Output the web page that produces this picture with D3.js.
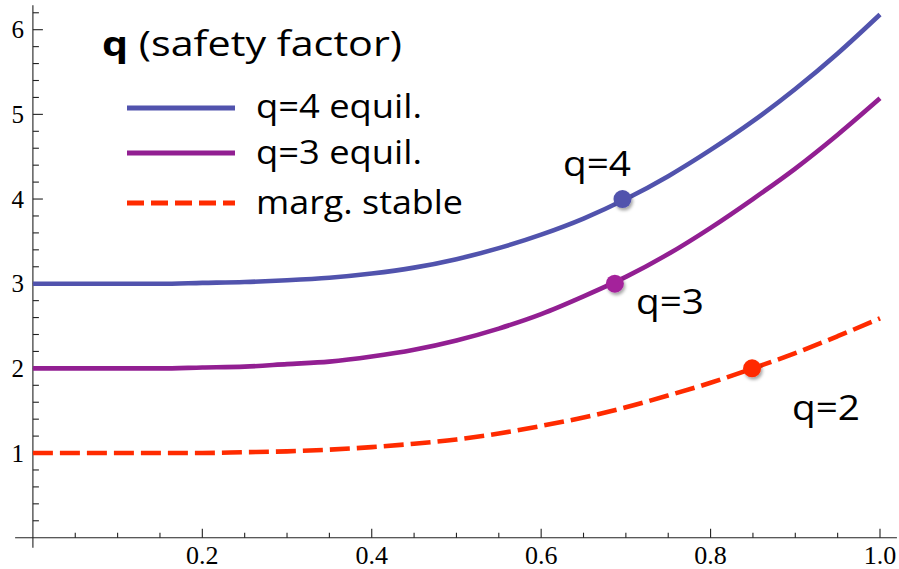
<!DOCTYPE html>
<html>
<head>
<meta charset="utf-8">
<script src="https://cdn.jsdelivr.net/npm/d3@7"></script>
<style>
  html, body { margin: 0; padding: 0; background: #fff; }
  svg { display: block; }
</style>
</head>
<body>
<svg id="chart" width="899" height="569"></svg>
<script>
// Normalised radius samples and safety-factor profiles q(r)
const radius = [0, 0.05, 0.10, 0.15, 0.20, 0.25, 0.30, 0.35, 0.40, 0.45, 0.50,
                0.55, 0.60, 0.65, 0.70, 0.75, 0.80, 0.85, 0.90, 0.95, 1.00];
const q4Equil = [3.00, 3.00, 3.00, 3.00, 3.01, 3.02, 3.04, 3.07, 3.12, 3.19, 3.29,
                 3.42, 3.58, 3.77, 4.00, 4.27, 4.58, 4.92, 5.30, 5.72, 6.18];
const q3Equil = [2.00, 2.00, 2.00, 2.00, 2.01, 2.02, 2.05, 2.08, 2.14, 2.22, 2.33,
                 2.47, 2.64, 2.85, 3.08, 3.35, 3.66, 4.00, 4.36, 4.76, 5.19];
const margStable = [1.00, 1.00, 1.00, 1.00, 1.00, 1.01, 1.02, 1.04, 1.07, 1.11, 1.16,
                    1.23, 1.32, 1.42, 1.54, 1.68, 1.83, 2.00, 2.18, 2.38, 2.59];

// Rational surfaces marked on each profile
const markerR = [0.696, 0.687, 0.849];
const markerQ = [4, 3, 2];
const markerLabels = ["q=4", "q=3", "q=2"];

// Axis ticks
const xMajorTicks = [0.2, 0.4, 0.6, 0.8, 1.0];
const xTickLabels = ["0.2", "0.4", "0.6", "0.8", "1.0"];
const yMajorTicks = [1, 2, 3, 4, 5, 6];
const yTickLabels = ["1", "2", "3", "4", "5", "6"];

const legendTitle = "(safety factor)";
const legendNames = ["q=4 equil.", "q=3 equil.", "marg. stable"];

const colors = {
  q4: "#5153ad",
  q3: "#921f92",
  marg: "#ff2b00",
  dotQ3: "#a4239b"
};

const svg = d3.select("#chart");
const W = 899, H = 569;

const x = d3.scaleLinear().domain([0, 1]).range([32.9, 880]);
const y = d3.scaleLinear().domain([0, 6]).range([537.7, 29.7]);

const sans = "'Open Sans', 'Noto Sans', sans-serif";
const serif = "'Liberation Serif', 'DejaVu Serif', serif";

svg.append("rect").attr("width", W).attr("height", H).attr("fill", "#fff");

// Drop shadow for the markers
const defs = svg.append("defs");
const f = defs.append("filter").attr("id", "dotShadow")
  .attr("x", "-50%").attr("y", "-50%").attr("width", "200%").attr("height", "200%");
f.append("feDropShadow").attr("dx", 1.5).attr("dy", 2.5)
  .attr("stdDeviation", 1.6).attr("flood-color", "#000").attr("flood-opacity", 0.35);

// ---- Axes (ticks inside, axes crossing at the origin) ----
const axes = svg.append("g").attr("stroke", "#222").attr("stroke-width", 1.1);

axes.append("line")
  .attr("x1", x(-0.021)).attr("x2", x(1.02))
  .attr("y1", y(0)).attr("y2", y(0));
axes.append("line")
  .attr("x1", x(0)).attr("x2", x(0))
  .attr("y1", y(-0.12)).attr("y2", y(6.29));

const xMinor = d3.range(0.05, 1.0001, 0.05).filter(v => !xMajorTicks.some(m => Math.abs(m - v) < 1e-6));
axes.selectAll(".xminor").data(xMinor).join("line")
  .attr("x1", d => x(d)).attr("x2", d => x(d))
  .attr("y1", y(0)).attr("y2", y(0) - 5);
axes.selectAll(".xmajor").data(xMajorTicks).join("line")
  .attr("x1", d => x(d)).attr("x2", d => x(d))
  .attr("y1", y(0)).attr("y2", y(0) - 9);

const yMinor = d3.range(0.2, 6.21, 0.2).filter(v => !yMajorTicks.some(m => Math.abs(m - v) < 1e-6));
axes.selectAll(".yminor").data(yMinor).join("line")
  .attr("x1", x(0)).attr("x2", x(0) + 6)
  .attr("y1", d => y(d)).attr("y2", d => y(d));
axes.selectAll(".ymajor").data(yMajorTicks).join("line")
  .attr("x1", x(0)).attr("x2", x(0) + 10)
  .attr("y1", d => y(d)).attr("y2", d => y(d));

svg.append("g").selectAll("text").data(xMajorTicks).join("text")
  .attr("x", d => x(d)).attr("y", y(0) + 26)
  .attr("text-anchor", "middle")
  .attr("font-family", serif).attr("font-size", 26).attr("fill", "#000")
  .text((d, i) => xTickLabels[i]);

svg.append("g").selectAll("text").data(yMajorTicks).join("text")
  .attr("x", 24).attr("y", d => y(d) + 8.5)
  .attr("text-anchor", "end")
  .attr("font-family", serif).attr("font-size", 25).attr("fill", "#000")
  .text((d, i) => yTickLabels[i]);

// ---- Profiles ----
const line = d3.line()
  .x((d, i) => x(radius[i]))
  .y(d => y(d))
  .curve(d3.curveMonotoneX);

const series = [
  { values: q4Equil, color: colors.q4, dash: null },
  { values: q3Equil, color: colors.q3, dash: null },
  { values: margStable, color: colors.marg, dash: "20,7" }
];

svg.append("g").selectAll("path").data(series).join("path")
  .attr("d", d => line(d.values))
  .attr("fill", "none")
  .attr("stroke", d => d.color)
  .attr("stroke-width", 4.6)
  .attr("stroke-dasharray", d => d.dash);

// ---- Markers at the rational surfaces ----
const dotColors = [colors.q4, colors.dotQ3, colors.marg];
svg.append("g").selectAll("circle").data(markerR).join("circle")
  .attr("cx", d => x(d))
  .attr("cy", (d, i) => y(markerQ[i]))
  .attr("r", 9)
  .attr("fill", (d, i) => dotColors[i])
  .attr("filter", "url(#dotShadow)");

// Sans text fitted to a given width
function label(g, str, px, py, size, width, weight) {
  return g.append("text")
    .attr("x", px).attr("y", py)
    .attr("font-family", sans).attr("font-size", size)
    .attr("font-weight", weight || 400)
    .attr("fill", "#000")
    .attr("textLength", width).attr("lengthAdjust", "spacingAndGlyphs")
    .text(str);
}

const markerLabelPos = [[563, 176], [636, 314], [792, 420]];
const ann = svg.append("g");
markerLabels.forEach((t, i) => {
  label(ann, t, markerLabelPos[i][0], markerLabelPos[i][1], 34, 68);
});

// ---- Legend ----
const lg = svg.append("g");
const title = lg.append("text")
  .attr("x", 102).attr("y", 56)
  .attr("font-family", sans).attr("font-size", 34)
  .attr("textLength", 300).attr("lengthAdjust", "spacingAndGlyphs");
title.append("tspan").attr("font-weight", 700).text("q");
title.append("tspan").text(" " + legendTitle);

const legendLineY = [108, 153, 203];
const legendTextY = [118, 164, 214];
const legendTextW = [166, 166, 207];
series.forEach((s, i) => {
  lg.append("line")
    .attr("x1", 127).attr("x2", 235)
    .attr("y1", legendLineY[i]).attr("y2", legendLineY[i])
    .attr("stroke", s.color).attr("stroke-width", 5)
    .attr("stroke-dasharray", s.dash ? "17,7" : null);
  label(lg, legendNames[i], 256, legendTextY[i], 32, legendTextW[i]);
});
</script>
</body>
</html>
